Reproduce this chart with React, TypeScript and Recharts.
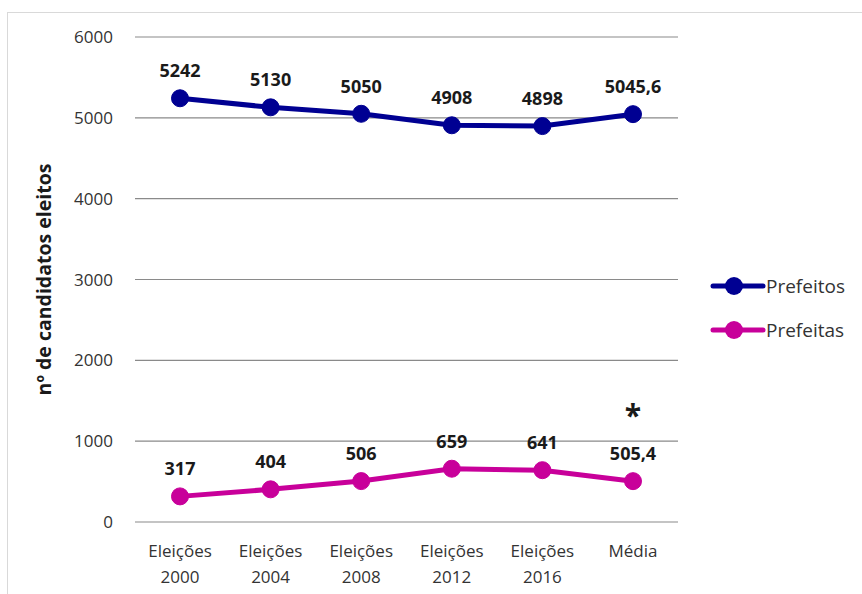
import { LineChart, Line, XAxis, YAxis, CartesianGrid, LabelList } from "recharts";

const categories = ["Eleições 2000", "Eleições 2004", "Eleições 2008", "Eleições 2012", "Eleições 2016", "Média"];
const prefeitos = [5242, 5130, 5050, 4908, 4898, 5045.6];
const prefeitas = [317, 404, 506, 659, 641, 505.4];
const yTicks = [0, 1000, 2000, 3000, 4000, 5000, 6000];

const FONT = "'Open Sans', 'Liberation Sans', sans-serif";
const BLUE = "#000092";
const PINK = "#c8009a";
const TEXT = "#333333";

const data = categories.map((name, i) => ({ name, prefeitos: prefeitos[i], prefeitas: prefeitas[i] }));

const fmt = (v: number) => String(v).replace(".", ",");

function CategoryTick(props: any) {
  const { x, y, payload } = props;
  const lines = String(payload.value).split(" ");
  return (
    <text x={x} y={y} textAnchor="middle" fill={TEXT} fontSize={17} fontFamily={FONT}>
      {lines.map((l, i) => (
        <tspan key={i} x={x} dy={i === 0 ? 27 : 26}>
          {l}
        </tspan>
      ))}
    </text>
  );
}

function ValueLabel(props: any) {
  const { x, y, value } = props;
  return (
    <text x={x} y={y - 21} textAnchor="middle" fill="#1a1a1a" fontSize={18} fontWeight="bold" fontFamily={FONT}>
      {fmt(value)}
    </text>
  );
}

// Prefeitas labels, with the asterisk over the average
function PinkLabel(props: any) {
  const { x, y, value, index } = props;
  return (
    <g>
      <ValueLabel x={x} y={y} value={value} />
      {index === categories.length - 1 && (
        <text x={x} y={y - 55} textAnchor="middle" fill="#1a1a1a" fontSize={30} fontWeight="bold" fontFamily={FONT}>
          *
        </text>
      )}
    </g>
  );
}

function LegendBox() {
  const items = [
    { label: "Prefeitos", color: BLUE },
    { label: "Prefeitas", color: PINK },
  ];
  return (
    <div style={{ position: "absolute", left: 710, top: 264, fontFamily: FONT, fontSize: 19, color: TEXT }}>
      {items.map((it) => (
        <div key={it.label} style={{ display: "flex", alignItems: "center", height: 44 }}>
          <svg width={56} height={20}>
            <line x1={3} y1={10} x2={53} y2={10} stroke={it.color} strokeWidth={5} strokeLinecap="round" />
            <circle cx={24} cy={10} r={9} fill={it.color} />
          </svg>
          <span>{it.label}</span>
        </div>
      ))}
    </div>
  );
}

export default function App() {
  return (
    <div style={{ position: "fixed", left: 0, top: 0, width: 862, height: 594, background: "#fff" }}>
      <div
        style={{
          position: "absolute",
          left: 7,
          top: 12,
          right: 0,
          bottom: 0,
          borderLeft: "1px solid #d9d9d9",
          borderTop: "1px solid #d9d9d9",
        }}
      />
      <LineChart width={862} height={594} data={data} margin={{ top: 37, right: 184, bottom: 0, left: 0 }}>
        <CartesianGrid vertical={false} stroke="#8a8a8a" strokeWidth={1.2} />
        <XAxis
          dataKey="name"
          axisLine={false}
          tickLine={false}
          interval={0}
          height={72}
          padding={{ left: 45, right: 45 }}
          tick={<CategoryTick />}
        />
        <YAxis
          domain={[0, 6000]}
          ticks={yTicks}
          axisLine={false}
          tickLine={false}
          width={135}
          tickMargin={16}
          tick={{ fill: TEXT, fontSize: 17, fontFamily: FONT }}
          label={{
            value: "nº de candidatos eleitos",
            angle: -90,
            position: "insideLeft",
            offset: 44,
            style: { textAnchor: "middle", fontFamily: FONT, fontSize: 19.5, fontWeight: "bold", fill: "#1a1a1a" },
          }}
        />
        <Line
          dataKey="prefeitos"
          name="Prefeitos"
          stroke={BLUE}
          strokeWidth={5}
          dot={{ r: 8.5, fill: BLUE, stroke: BLUE, strokeWidth: 1 }}
          activeDot={false}
          isAnimationActive={false}
        >
          <LabelList dataKey="prefeitos" content={<ValueLabel />} />
        </Line>
        <Line
          dataKey="prefeitas"
          name="Prefeitas"
          stroke={PINK}
          strokeWidth={5}
          dot={{ r: 8.5, fill: PINK, stroke: PINK, strokeWidth: 1 }}
          activeDot={false}
          isAnimationActive={false}
        >
          <LabelList dataKey="prefeitas" content={<PinkLabel />} />
        </Line>
      </LineChart>
      <LegendBox />
    </div>
  );
}
